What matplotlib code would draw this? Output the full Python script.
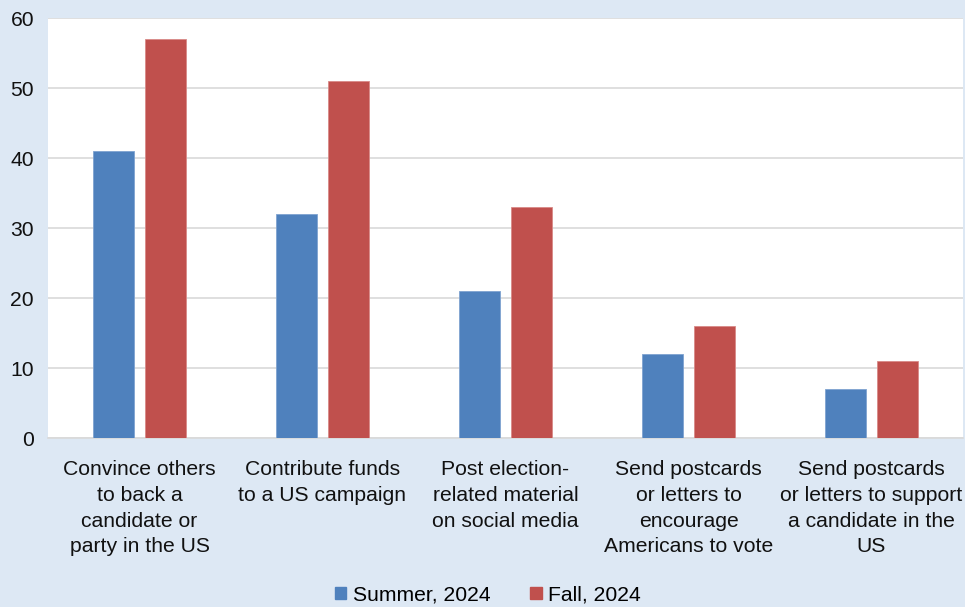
import matplotlib
matplotlib.use("Agg")
import matplotlib.pyplot as plt
import numpy as np
from matplotlib.patches import Patch

categories = [
    "Convince others\nto back a\ncandidate or\nparty in the US",
    "Contribute funds\nto a US campaign",
    "Post election-\nrelated material\non social media",
    "Send postcards\nor letters to\nencourage\nAmericans to vote",
    "Send postcards\nor letters to support\na candidate in the\nUS",
]
summer_2024 = [41, 32, 21, 12, 7]
fall_2024 = [57, 51, 33, 16, 11]
series_names = ["Summer, 2024", "Fall, 2024"]
y_ticks = [0, 10, 20, 30, 40, 50, 60]

blue = "#4F81BD"
red = "#C0504D"
bg = "#DDE8F4"

plt.rcParams["font.family"] = ["Liberation Sans", "DejaVu Sans"]
fs = 15.2

fig = plt.figure(figsize=(9.65, 6.07), dpi=100, facecolor=bg)
ax = fig.add_axes([48 / 965, 169 / 607, 915 / 965, 420 / 607])
ax.set_facecolor("white")

x = np.arange(len(categories))
w = 0.224
off = 0.142
ax.bar(x - off, summer_2024, width=w, color=blue, edgecolor="#7FA3D0", linewidth=0.6, zorder=3)
ax.bar(x + off, fall_2024, width=w, color=red, edgecolor="#D88A88", linewidth=0.6, zorder=3)

ax.set_xlim(-0.5, len(categories) - 0.5)
ax.set_ylim(0, 60)
ax.set_yticks(y_ticks)
ax.set_yticklabels([str(t) for t in y_ticks], fontsize=fs, color="#111111")
ax.set_xticks(x)
ax.set_xticklabels(categories, fontsize=fs, color="#111111", linespacing=1.45, va="top")
ax.tick_params(axis="both", length=0)
ax.tick_params(axis="y", pad=10)
ax.tick_params(axis="x", pad=16)

ax.yaxis.grid(True, color="#D9D9D9", linewidth=1.2, zorder=0)
for side in ["top", "right", "left"]:
    ax.spines[side].set_visible(False)
ax.spines["bottom"].set_color("#D9D9D9")
ax.spines["bottom"].set_linewidth(1.2)

handles = [Patch(facecolor=blue, edgecolor=blue), Patch(facecolor=red, edgecolor=red)]
fig.legend(handles, series_names, loc="center", bbox_to_anchor=(488 / 965, 1 - 595 / 607),
           ncol=2, frameon=False, fontsize=fs, handlelength=0.55, handleheight=0.55,
           handletextpad=0.3, columnspacing=1.9, borderaxespad=0)

fig.savefig("out.png", dpi=100, facecolor=bg)
